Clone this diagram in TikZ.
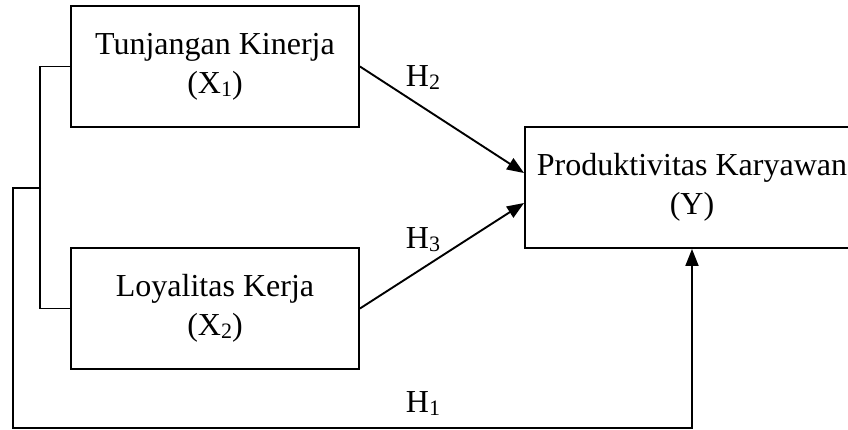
\documentclass[tikz,border=0pt]{standalone}
\usepackage{fontspec}
\setmainfont{Liberation Serif}
\usetikzlibrary{arrows.meta}
\newcommand{\mysub}[1]{\raisebox{-3pt}{\fontsize{22}{22}\selectfont #1}}
\begin{document}
\begin{tikzpicture}[x=1pt,y=-1pt,
  line width=1.9pt,
  box/.style={draw, rectangle, inner sep=0pt, minimum height=121pt, align=center,
              font=\fontsize{32}{39}\selectfont},
  lbl/.style={anchor=base west, inner sep=0pt, font=\fontsize{32}{38}\selectfont},
  arr/.style={-{Triangle[length=17pt,width=13pt]}}]
\useasboundingbox (0,0) rectangle (848,430);
\clip (0,0) rectangle (848,430);
\node[box, minimum width=288pt] (X1) at (215,66.5) {Tunjangan Kinerja\\(X\mysub{1})};
\node[box, minimum width=288pt] (X2) at (215,308.5) {Loyalitas Kerja\\(X\mysub{2})};
\node[box, minimum width=334pt] (Y) at (692,187.5) {Produktivitas Karyawan\\(Y)};
\coordinate (j) at (41,188);
\coordinate (c1) at (13,188);
\coordinate (c2) at (13,428);
\draw (X1.west) -- ++(-30,0) |- (X2.west);
\draw[arr] (j) -- (c1) -- (c2) -| (Y.south);
\draw[arr] (X1.east) -- ([yshift=14.5pt]Y.west);
\draw[arr] (X2.east) -- ([yshift=-15.5pt]Y.west);
\node[lbl] (h2) at (405,87) {H\mysub{2}};
\node[lbl] (h3) at (405,248) {H\mysub{3}};
\node[lbl] (h1) at (405,412) {H\mysub{1}};
\end{tikzpicture}
\end{document}
